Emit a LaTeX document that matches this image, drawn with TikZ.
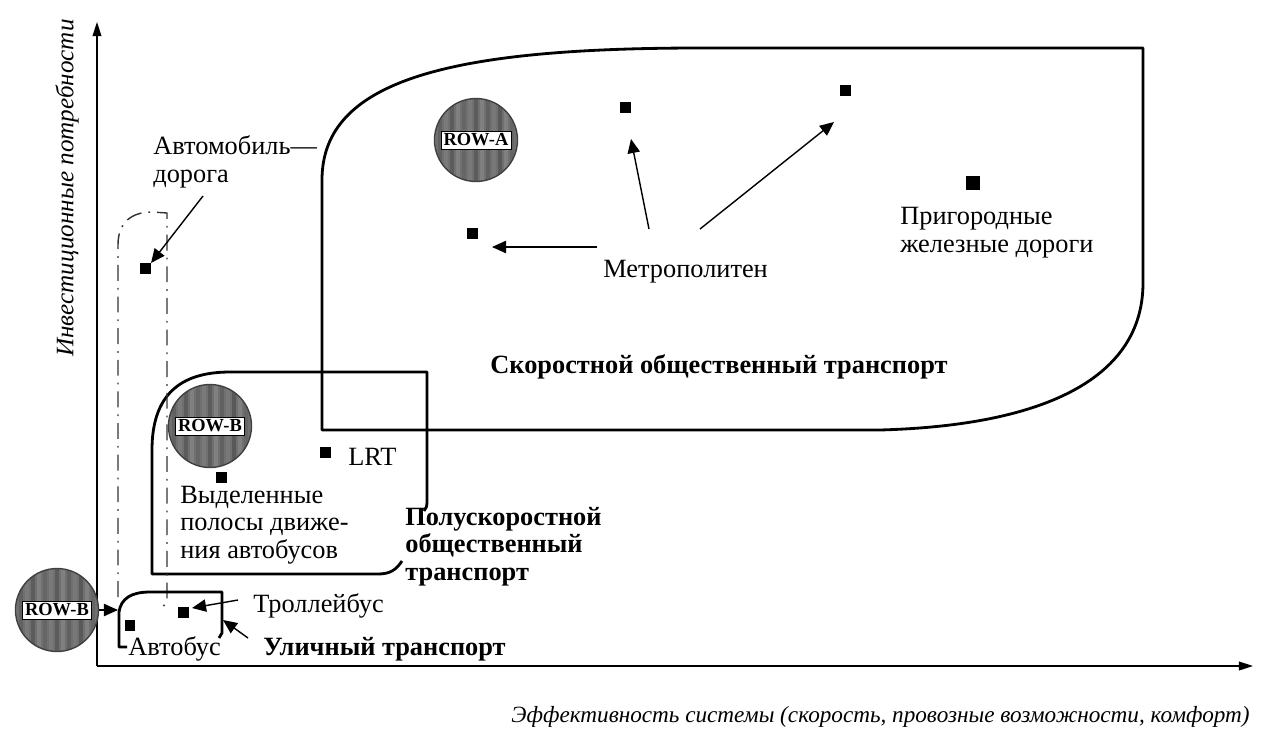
\documentclass[tikz,border=0pt]{standalone}
\usepackage{fontspec}
\setmainfont{Liberation Serif}
\usetikzlibrary{arrows.meta}
\begin{document}
\begin{tikzpicture}[x=0.02cm,y=-0.02cm,
  lab/.style={font=\fontsize{15}{15.5}\selectfont, inner sep=0pt, align=left},
  blab/.style={font=\fontsize{15}{15.5}\selectfont\bfseries, inner sep=0pt, align=left},
  sq/.style={fill=black, minimum size=0.22cm, inner sep=0pt},
  region/.style={line width=1.6pt, line join=round},
  dd/.style={line width=0.8pt, black!80, dash pattern=on 9pt off 4pt on 1pt off 4pt},
  arr/.style={line width=0.8pt, -{Triangle[length=8pt,width=7pt]}},
  axis/.style={line width=0.7pt, -{Triangle[length=8pt,width=5pt]}},
  rowc/.style={circle, minimum size=1.66cm, draw=black!75, line width=0.8pt, fill=black!56,
    path picture={
      \foreach \k/\c in {-42/black!50,-36/black!62,-30/black!52,-24/black!64,-18/black!50,-12/black!60,-6/black!52,0/black!64,6/black!50,12/black!62,18/black!53,24/black!65,30/black!50,36/black!60,42/black!52}
        \fill[\c] ([xshift={(\k-2)*0.5692pt}]path picture bounding box.south) rectangle ([xshift={(\k+2)*0.5692pt}]path picture bounding box.north);
    }},
  rowlab/.style={fill=white, draw=black, line width=0.4pt, font=\fontsize{10.5}{11}\selectfont\bfseries, inner sep=1.5pt}
]
\useasboundingbox (0,0) rectangle (1262,731);

% axes
\coordinate (O) at (97,666);
\coordinate (yend) at (97,22);
\coordinate (xend) at (1253,666);
\draw[axis] (O) -- (yend);
\draw[axis] (O) -- (xend);
\node[font=\fontsize{14.3}{16}\selectfont\itshape, rotate=90, inner sep=0pt] (ylab) at (67,188) {Инвестиционные потребности};
\node[font=\fontsize{13.2}{15}\selectfont\itshape, anchor=base east, inner sep=0pt] (xlab) at (1250,722) {Эффективность системы (скорость, провозные возможности, комфорт)};

% big region
\draw[region] (322,430) -- (322,180) .. controls (322,80) and (450,48) .. (700,48) -- (1143,48) -- (1143,283) .. controls (1143,370) and (1060,425) .. (880,430) -- cycle;

% mid region
\draw[region] (402,561) .. controls (396,570) and (390,574) .. (378,574) -- (152,574) -- (152,450) .. controls (152,395) and (180,372) .. (230,372) -- (427,372) -- (427,502) .. controls (427,506) and (426,509) .. (424,511);

% dash-dot region
\draw[dd] (118,597) -- (118,245) .. controls (118,222) and (132,212) .. (152,212) -- (167,213) -- (167,601) -- (163,607);

% small region
\draw[region] (127,647) -- (119,647) -- (119,612) .. controls (121,598) and (132,592) .. (150,592) -- (222,592) -- (222,633) -- (219,638);

% ROW circles
\node[rowc] (rowb1) at (57,610) {};
\node[rowlab] (rowb1l) at (rowb1) {ROW-B};
\node[rowc] (rowb2) at (210,426) {};
\node[rowlab] (rowb2l) at (rowb2) {ROW-B};
\node[rowc] (rowa) at (476,140) {};
\node[rowlab] (rowal) at (rowa) {ROW-A};

% squares
\node[sq] (bus) at (130,625) {};
\node[sq] (trol) at (183,612) {};
\node[sq] (auto) at (145,268) {};
\node[sq] (brt) at (221,477) {};
\node[sq] (lrt) at (325,452) {};
\node[sq] (m1) at (472,233) {};
\node[sq] (m2) at (625,107) {};
\node[sq] (m3) at (845,90) {};
\node[sq, minimum size=0.27cm] (rail) at (973,183) {};

% texts
\node[lab, anchor=base west] (tbus) at (128,655) {Автобус};
\node[lab, anchor=base west] (ttrol) at (253,612) {Троллейбус};
\node[blab, anchor=base west] (tstreet) at (263,655) {Уличный транспорт};
\node[lab, anchor=base west] (tauto) at (153,182) {Автомобиль—\\дорога};
\node[lab, anchor=base west] (tbrt) at (180,558) {Выделенные\\полосы движе-\\ния автобусов};
\node[lab, anchor=base west] (tlrt) at (348,465) {LRT};
\node[blab, anchor=base west] (tsemi) at (405,580) {Полускоростной\\общественный\\транспорт};
\node[lab, anchor=base west] (tmetro) at (603,277) {Метрополитен};
\node[lab, anchor=base west] (trail) at (900,252) {Пригородные\\железные дороги};
\node[blab, anchor=base] (trapid) at (719,373) {Скоростной общественный транспорт};

% arrows
\coordinate (rbtip) at (118,610);
\draw[arr] (rowb1.east) -- (rbtip);
\coordinate (trs) at (238,600);
\coordinate (trt) at (192,608);
\draw[arr] (trs) -- (trt);
\coordinate (sts) at (248,638);
\coordinate (stt) at (223,620);
\draw[arr] (sts) -- (stt);
\coordinate (aus) at (203,196);
\coordinate (aut) at (151,263);
\draw[arr] (aus) -- (aut);
\coordinate (ms1) at (597,247);
\coordinate (mt1) at (492,247);
\draw[arr] (ms1) -- (mt1);
\coordinate (ms2) at (649,229);
\coordinate (mt2) at (631,139);
\draw[arr] (ms2) -- (mt2);
\coordinate (ms3) at (700,229);
\coordinate (mt3) at (834,122);
\draw[arr] (ms3) -- (mt3);
\end{tikzpicture}
\end{document}
